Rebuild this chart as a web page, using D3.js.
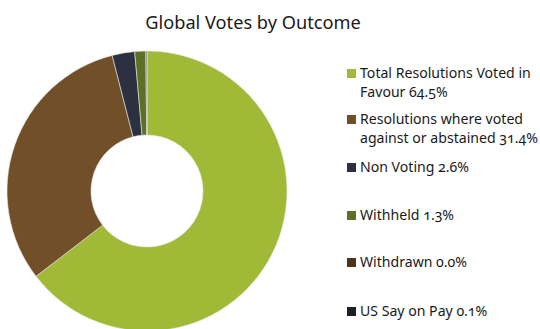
<!DOCTYPE html>
<html>
<head>
<meta charset="utf-8">
<script src="https://cdn.jsdelivr.net/npm/d3@7"></script>
<style>
  html, body { margin: 0; padding: 0; background: #fff; }
  svg text { font-family: "Noto Sans", "Open Sans", sans-serif; font-variant-numeric: oldstyle-nums; fill: #1a1a1a; }
</style>
</head>
<body>
<svg id="chart" width="540" height="329"></svg>
<script>
// Outcome categories and their shares of all votes (%)
const categories = [
  "Total Resolutions Voted in Favour",
  "Resolutions where voted against or abstained",
  "Non Voting",
  "Withheld",
  "Withdrawn",
  "US Say on Pay"
];
const shares = [64.5, 31.4, 2.6, 1.3, 0.0, 0.1];
const colors = ["#a0b936", "#714f28", "#2b3140", "#5e7023", "#4b3419", "#1e2029"];
// Legend text, wrapped the way it is shown
const legendLines = [
  ["Total Resolutions Voted in", "Favour 64.5%"],
  ["Resolutions where voted", "against or abstained 31.4%"],
  ["Non Voting 2.6%"],
  ["Withheld 1.3%"],
  ["Withdrawn 0.0%"],
  ["US Say on Pay 0.1%"]
];
const title = "Global Votes by Outcome";

const svg = d3.select("#chart");

svg.append("text")
  .attr("x", 253).attr("y", 29)
  .attr("text-anchor", "middle")
  .style("font-size", "18.2px")
  .text(title);

// Donut
const cx = 147, cy = 191, rOuter = 140, rInner = 56;
const data = categories.map((c, i) => ({ name: c, value: shares[i], color: colors[i] }));
const pie = d3.pie().value(d => d.value).sort(null);
const arc = d3.arc().innerRadius(rInner).outerRadius(rOuter);

svg.append("g")
  .attr("transform", `translate(${cx},${cy})`)
  .selectAll("path")
  .data(pie(data))
  .join("path")
  .attr("d", arc)
  .attr("fill", d => d.data.color)
  .attr("stroke", "#e8e8e8")
  .attr("stroke-width", 0.6);

// Legend
const lineH = 19;
const entryBaselines = [78, 124, 172, 220, 267, 316];
const legend = svg.append("g");
data.forEach((d, i) => {
  const y0 = entryBaselines[i];
  legend.append("rect")
    .attr("x", 347).attr("y", y0 - 9)
    .attr("width", 9).attr("height", 9)
    .attr("fill", d.color);
  const t = legend.append("text")
    .attr("x", 360).attr("y", y0)
    .style("font-size", "14.1px");
  legendLines[i].forEach((ln, j) => {
    t.append("tspan").attr("x", 360).attr("y", y0 + j * lineH).text(ln);
  });
});
</script>
</body>
</html>
